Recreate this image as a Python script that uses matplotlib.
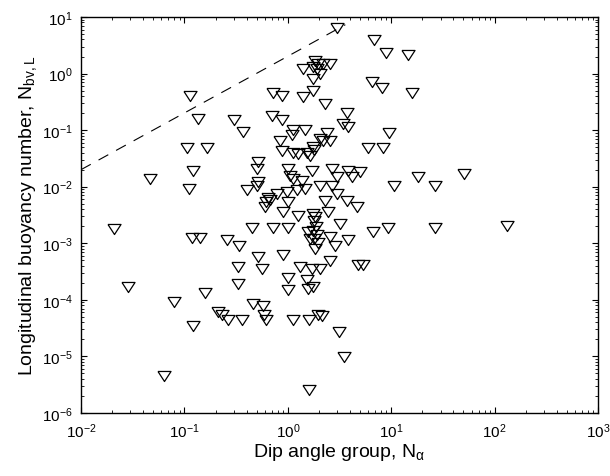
import matplotlib
matplotlib.use("Agg")
import matplotlib.pyplot as plt
from matplotlib.ticker import LogLocator, LogFormatterSciNotation, NullFormatter

plt.rcParams["font.family"] = ["Liberation Sans", "DejaVu Sans"]
plt.rcParams["mathtext.default"] = "regular"

# dip angle group N_alpha and longitudinal buoyancy number N_bv,L
n_alpha = [
    0.021, 0.0285, 0.0465, 0.064, 0.079, 0.106, 0.111, 0.113, 0.121, 0.118,
    0.121, 0.136, 0.142, 0.158, 0.166, 0.211, 0.231, 0.258, 0.264, 0.302,
    0.330, 0.330, 0.337, 0.361, 0.369, 0.403, 0.451, 0.46, 0.504, 0.515,
    0.515, 0.504, 0.515, 0.562, 0.575, 0.589, 0.615, 0.643, 0.673, 0.615,
    0.601, 0.703, 0.719, 0.719, 0.787, 0.841, 0.879, 0.879, 0.879, 0.90,
    0.90, 0.98, 1.0, 1.0, 1.0, 1.0, 1.0, 1.05, 1.10, 1.12,
    1.12, 1.12, 1.12, 1.23, 1.26, 1.26, 1.31, 1.37, 1.40, 1.40,
    1.47, 1.47, 1.53, 1.53, 1.57, 1.60, 1.60, 1.71, 1.71, 1.75,
    1.75, 1.75, 1.75, 1.75, 1.83, 1.96, 1.92, 1.75, 2.56, 2.05,
    2.19, 1.83, 1.79, 1.87, 1.75, 1.92, 1.79, 1.96, 1.83, 1.57,
    1.64, 1.64, 1.79, 1.96, 2.05, 2.05, 2.05, 2.14, 2.19, 2.29,
    2.29, 2.39, 2.45, 2.56, 2.56, 2.56, 2.67, 2.67, 2.86, 2.99,
    2.99, 2.99, 3.13, 3.20, 3.42, 3.50, 3.74, 3.74, 3.82, 3.82,
    3.82, 4.18, 4.67, 4.77, 5.34, 4.99, 5.97, 8.33, 6.52, 6.82,
    6.67, 8.15, 8.91, 9.31, 9.53, 10.6, 14.5, 15.9, 18.2, 26.5,
    26.5, 50.6, 132.0,
]
n_bvl = [
    1.8e-3, 1.66e-4, 0.0135, 4.5e-6, 9.2e-5, 0.0475, 0.0091, 0.40, 0.019, 1.24e-3,
    3.5e-5, 0.158, 1.24e-3, 1.33e-4, 0.0475, 6.1e-5, 5.5e-5, 1.15e-3, 4.4e-5, 0.148,
    3.8e-4, 1.9e-4, 8.8e-4, 4.4e-5, 0.093, 0.0086, 1.83e-3, 8.5e-5, 0.0206, 0.0122,
    0.0274, 0.0101, 5.8e-4, 3.5e-4, 7.8e-5, 5.5e-5, 4.4e-5, 0.0063, 0.0058, 0.0054,
    0.0044, 0.178, 0.454, 1.83e-3, 0.0075, 0.063, 0.40, 0.148, 0.043, 0.0036,
    6.1e-4, 0.0081, 0.0206, 0.0054, 1.83e-3, 2.4e-4, 1.5e-4, 0.0155, 0.081, 0.099,
    0.040, 0.0135, 4.4e-5, 0.0086, 0.038, 0.00305, 3.8e-4, 0.0126, 1.21, 0.386,
    0.099, 0.0091, 0.040, 2.2e-4, 1.56e-4, 4.4e-5, 2.5e-6, 0.019, 3.5e-4, 0.80,
    0.493, 0.0505, 0.0033, 1.66e-4, 1.67, 1.48, 1.21, 1.31, 1.48, 0.98,
    1.48, 0.0029, 0.0025, 0.00195, 0.00166, 0.00141, 0.0012, 0.00102, 0.0008, 0.00159,
    0.0012, 0.035, 0.0447, 5.5e-5, 0.070, 0.0101, 3.5e-4, 5.1e-5, 0.063, 0.29,
    0.0056, 0.0875, 0.0036, 0.063, 0.0013, 4.9e-4, 0.0206, 0.0101, 0.00088, 6.4,
    0.0149, 0.0075, 2.7e-5, 0.0022, 0.129, 9.8e-6, 0.197, 0.0056, 0.114, 0.019,
    0.00112, 0.0149, 0.0044, 4.2e-4, 4.2e-4, 0.0182, 0.0475, 0.0475, 0.72, 3.92,
    0.00159, 0.557, 2.31, 0.00183, 0.0875, 0.0101, 2.13, 0.454, 0.0149, 0.0101,
    0.00183, 0.0168, 0.0020,
]

# dashed reference line
line_x = [0.01, 3.6]
line_y = [0.02, 7.3]

TRIANGLE_DOWN = [(-1, 0.77), (1, 0.77), (0, -0.77), (-1, 0.77)]

fig = plt.figure(figsize=(6.1, 4.77), dpi=100)
ax = fig.add_axes([0.1328, 0.1321, 0.8475, 0.8302])

ax.plot(line_x, line_y, color="black", lw=0.8, dashes=(10, 8))
ax.plot(n_alpha, n_bvl, ls="none", marker=TRIANGLE_DOWN, ms=9.4,
        mfc="none", mec="black", mew=0.9)

ax.set_xscale("log")
ax.set_yscale("log")
ax.set_xlim(1e-2, 1e3)
ax.set_ylim(1e-6, 1e1)

for axis in (ax.xaxis, ax.yaxis):
    axis.set_major_locator(LogLocator(base=10, numticks=20))
    axis.set_minor_locator(LogLocator(base=10, subs=range(2, 10), numticks=20))
    axis.set_major_formatter(LogFormatterSciNotation())
    axis.set_minor_formatter(NullFormatter())

ax.tick_params(which="both", direction="in", top=True, right=True,
               labelsize=11, color="black")
ax.tick_params(which="major", length=4.5, width=0.8, pad=6)
ax.tick_params(which="minor", length=2.5, width=0.6)
for sp in ax.spines.values():
    sp.set_linewidth(1.0)

ax.set_xlabel(r"Dip angle group, $\mathregular{N_{\alpha}}$", fontsize=14, labelpad=1)
ax.set_ylabel(r"Longitudinal buoyancy number, $\mathregular{N_{bv,L}}$",
              fontsize=14, labelpad=2)

fig.savefig("out.png", dpi=100)
